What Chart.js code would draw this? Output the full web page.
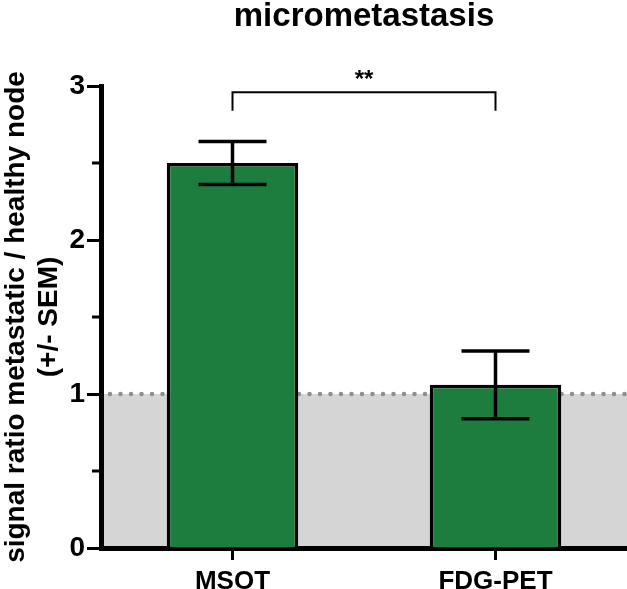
<!DOCTYPE html>
<html>
<head>
<meta charset="utf-8">
<script src="https://cdn.jsdelivr.net/npm/chart.js@4/dist/chart.umd.min.js"></script>
<style>
  html, body { margin: 0; padding: 0; background: #fff; }
  #wrap { width: 627px; height: 589px; }
</style>
</head>
<body>
<div id="wrap"><canvas id="c" width="627" height="589"></canvas></div>
<script>
// values
const categories = ['MSOT', 'FDG-PET'];
const means = [2.5, 1.06];
const sem = [0.14, 0.22];
const majorTicks = [0, 1, 2, 3];
const minorTicks = [0.5, 1.5, 2.5];
const healthyLevel = 1;          // ratio 1 = healthy node
const sigPair = [0, 1];          // bracket between bars
const sigLevel = 2.96;
const sigDrop = 0.12;
const sigLabel = '**';

const FONT = '"Liberation Sans", Arial, sans-serif';

// grey band 0..1 with dotted line at 1 (drawn before axes & bars)
const bandPlugin = {
  id: 'band',
  beforeDraw(chart) {
    const { ctx, chartArea: a, scales: { y } } = chart;
    const y0 = y.getPixelForValue(0), y1 = y.getPixelForValue(healthyLevel);
    ctx.save();
    ctx.fillStyle = '#d5d5d5';
    ctx.fillRect(a.left, y1, a.right - a.left, y0 - y1);
    ctx.strokeStyle = '#8e8e8e';
    ctx.lineWidth = 4.5;
    ctx.lineCap = 'round';
    ctx.setLineDash([0, 10.5]);
    ctx.beginPath();
    ctx.moveTo(a.left + 9, y1);
    ctx.lineTo(a.right, y1);
    ctx.stroke();
    ctx.restore();
  }
};

// SEM error bars, minor y ticks, significance bracket
const overlayPlugin = {
  id: 'overlay',
  afterDatasetsDraw(chart) {
    const { ctx, scales: { x, y } } = chart;
    ctx.save();
    ctx.strokeStyle = '#000';
    ctx.lineWidth = 3.5;
    const cap = 34;
    means.forEach((m, i) => {
      const cx = x.getPixelForValue(i);
      const top = y.getPixelForValue(m + sem[i]);
      const bot = y.getPixelForValue(m - sem[i]);
      ctx.beginPath();
      ctx.moveTo(cx, top); ctx.lineTo(cx, bot);
      ctx.moveTo(cx - cap, top); ctx.lineTo(cx + cap, top);
      ctx.moveTo(cx - cap, bot); ctx.lineTo(cx + cap, bot);
      ctx.stroke();
    });

    // minor ticks
    ctx.lineWidth = 3;
    const ax = chart.chartArea.left;
    minorTicks.forEach(v => {
      const py = y.getPixelForValue(v);
      ctx.beginPath();
      ctx.moveTo(ax - 9, py); ctx.lineTo(ax, py);
      ctx.stroke();
    });

    // bracket
    const xa = x.getPixelForValue(sigPair[0]);
    const xb = x.getPixelForValue(sigPair[1]);
    const yb = y.getPixelForValue(sigLevel);
    const yl = y.getPixelForValue(sigLevel - sigDrop);
    ctx.lineWidth = 2;
    ctx.beginPath();
    ctx.moveTo(xa, yl); ctx.lineTo(xa, yb); ctx.lineTo(xb, yb); ctx.lineTo(xb, yl);
    ctx.stroke();
    ctx.fillStyle = '#000';
    ctx.font = 'bold 24px ' + FONT;
    ctx.textAlign = 'center';
    ctx.textBaseline = 'alphabetic';
    ctx.fillText(sigLabel, (xa + xb) / 2, yb - 5);
    ctx.restore();
  }
};

new Chart(document.getElementById('c'), {
  type: 'bar',
  data: {
    labels: categories,
    datasets: [{
      data: means,
      backgroundColor: '#1c7d3e',
      borderColor: '#000',
      borderWidth: 3.5,
      barPercentage: 0.5,
      categoryPercentage: 1.0
    }]
  },
  options: {
    responsive: false,
    animation: false,
    layout: { padding: 0 },
    plugins: {
      legend: { display: false },
      tooltip: { enabled: false },
      title: {
        display: true,
        fullSize: false,
        text: 'micrometastasis',
        color: '#000',
        font: { family: FONT, size: 33, weight: 'bold', lineHeight: 1.0 },
        padding: { top: 0, bottom: 53 }
      }
    },
    scales: {
      x: {
        afterFit(s) { s.height = 41; },
        grid: {
          offset: false,
          drawOnChartArea: false,
          drawTicks: true,
          tickLength: 12,
          tickWidth: 3,
          tickColor: '#000'
        },
        border: { display: true, color: '#000', width: 5 },
        ticks: {
          color: '#000',
          padding: 6,
          font: { family: FONT, size: 26, weight: 'bold' }
        }
      },
      y: {
        min: 0,
        max: 3,
        afterFit(s) { s.width = 101; },
        afterBuildTicks(s) { s.ticks = majorTicks.map(v => ({ value: v })); },
        grid: {
          drawOnChartArea: false,
          drawTicks: true,
          tickLength: 14,
          tickWidth: 3,
          tickColor: '#000'
        },
        border: { display: true, color: '#000', width: 5 },
        ticks: {
          color: '#000',
          padding: 2,
          font: { family: FONT, size: 28, weight: 'bold' }
        },
        title: {
          display: true,
          text: ['signal ratio metastatic / healthy node', '(+/- SEM)'],
          color: '#000',
          font: { family: FONT, size: 28, weight: 'bold', lineHeight: 1.18 },
          padding: { top: 0, bottom: 0 }
        }
      }
    }
  },
  plugins: [bandPlugin, overlayPlugin]
});
</script>
</body>
</html>
